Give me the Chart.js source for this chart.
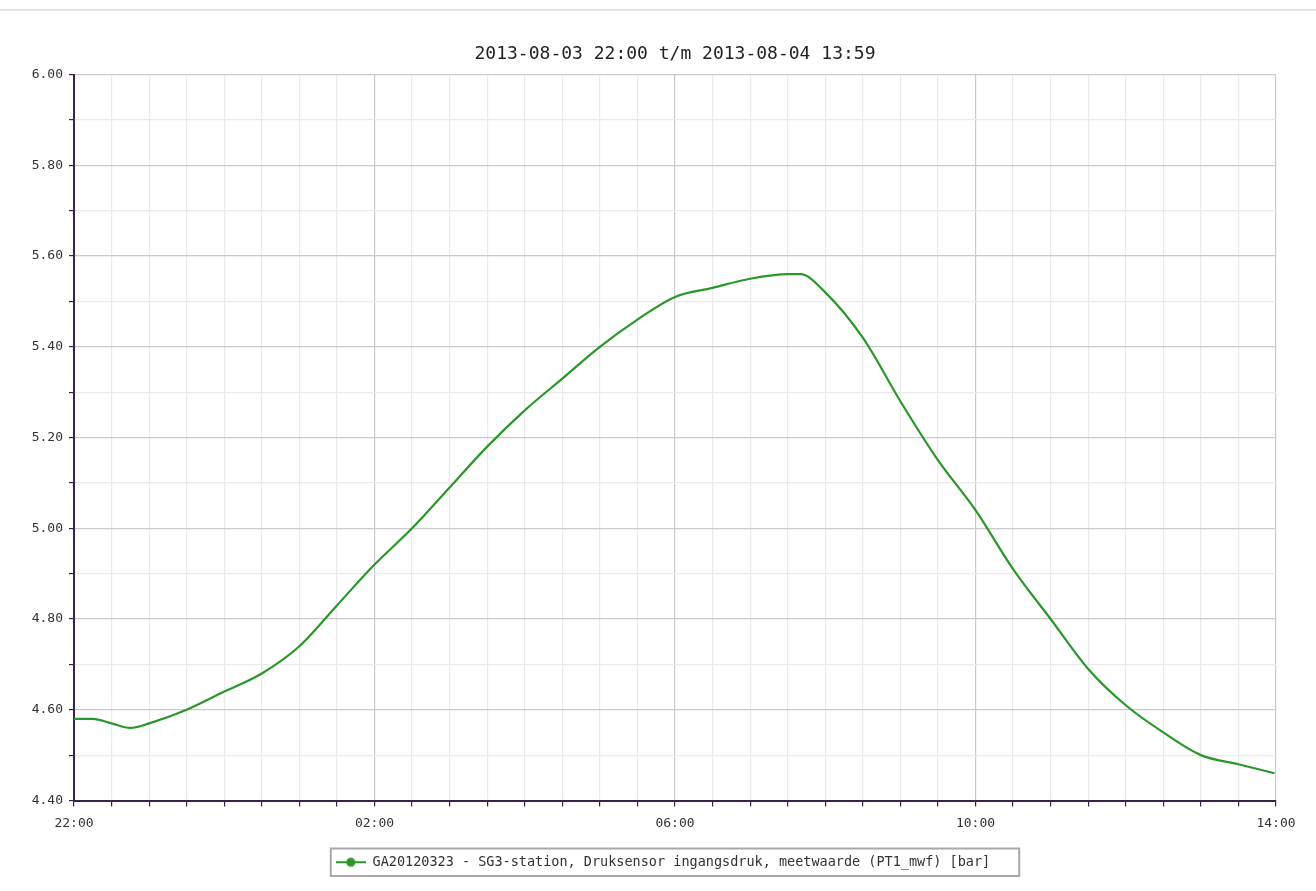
<!DOCTYPE html>
<html>
<head>
<meta charset="utf-8">
<script src="https://cdn.jsdelivr.net/npm/chart.js@4"></script>
<style>
  html, body { margin: 0; padding: 0; background: #fff; }
  .topline { position: absolute; left: 0; top: 9px; width: 1316px; height: 0; border-top: 2px solid #e2e2e2; }
  .wrap { position: absolute; left: 0; top: 0; width: 1316px; height: 891px; }
</style>
</head>
<body>
<div class="topline"></div>
<div class="wrap"><canvas id="pressure-chart" width="1316" height="891"></canvas></div>
<script>
// hours since 2013-08-03 22:00
const hours = [0, 0.25, 0.5, 0.75, 1, 1.5, 2, 2.5, 3, 3.5, 4, 4.5, 5, 5.5, 6, 6.5, 7, 7.5,
  8, 8.5, 9, 9.5, 9.67, 10, 10.5, 11, 11.5, 12, 12.5, 13, 13.5, 14, 14.5, 15, 15.5, 15.98];
const pressure = [4.58, 4.58, 4.57, 4.56, 4.57, 4.60, 4.64, 4.68, 4.74, 4.83, 4.92, 5.00, 5.09, 5.18,
  5.26, 5.33, 5.40, 5.46, 5.51, 5.53, 5.55, 5.56, 5.56, 5.52, 5.42, 5.28, 5.15, 5.04, 4.91, 4.80,
  4.69, 4.61, 4.55, 4.50, 4.48, 4.46];
const xTickHours = [0, 4, 8, 12, 16];
const xTickLabels = ["22:00", "02:00", "06:00", "10:00", "14:00"];
const seriesLabel = "GA20120323 - SG3-station, Druksensor ingangsdruk, meetwaarde (PT1_mwf) [bar]";
const titleText = "2013-08-03 22:00 t/m 2013-08-04 13:59";

const green = "#2b972b";
const axisColor = "#3b2347";
const minorGrid = "#ece9ee";
const majorGrid = "#cdc8d0";
const mono = "'DejaVu Sans Mono', monospace";

// legend marker: line with a dot
const marker = document.createElement("canvas");
marker.width = 30;
marker.height = 12;
const mctx = marker.getContext("2d");
mctx.strokeStyle = green;
mctx.lineWidth = 2;
mctx.beginPath();
mctx.moveTo(0, 6);
mctx.lineTo(30, 6);
mctx.stroke();
mctx.fillStyle = green;
mctx.beginPath();
mctx.arc(15, 6, 4.5, 0, Math.PI * 2);
mctx.fill();

const legendBorder = {
  id: "legendBorder",
  afterLayout(chart) {
    // nudge legend a bit left, like the original
    chart.legend.left -= 12;
    chart.legend.right -= 12;
  },
  afterDraw(chart) {
    const box = chart.legend.legendHitBoxes[0];
    if (!box) return;
    const ctx = chart.ctx;
    ctx.save();
    ctx.strokeStyle = "#aaa6ad";
    ctx.lineWidth = 2;
    ctx.strokeRect(box.left - 5, box.top - 7, box.width + 34, box.height + 14);
    ctx.restore();
  },
};

const isEven = (v) => Math.round(v * 10) % 2 === 0;

new Chart(document.getElementById("pressure-chart"), {
  type: "line",
  data: {
    datasets: [
      {
        label: seriesLabel,
        data: hours.map((h, i) => ({ x: h, y: pressure[i] })),
        borderColor: green,
        backgroundColor: green,
        borderWidth: 2.2,
        pointRadius: 0,
        pointStyle: marker,
        cubicInterpolationMode: "monotone",
        fill: false,
      },
    ],
  },
  options: {
    responsive: false,
    animation: false,
    layout: { padding: { left: 0, right: 40, top: 0, bottom: 12 } },
    plugins: {
      title: {
        display: true,
        fullSize: false,
        text: titleText,
        color: "#222",
        font: { family: mono, size: 18, weight: "normal" },
        padding: { top: 44, bottom: 9 },
      },
      legend: {
        position: "bottom",
        fullSize: false,
        labels: {
          usePointStyle: true,
          pointStyleWidth: 30,
          color: "#333",
          font: { family: mono, size: 13.5 },
          padding: 10,
        },
      },
      tooltip: { enabled: false },
    },
    scales: {
      x: {
        type: "linear",
        min: 0,
        max: 16,
        afterFit(scale) { scale.height = 45; },
        ticks: {
          stepSize: 0.5,
          autoSkip: false,
          maxRotation: 0,
          padding: 9,
          color: "#333",
          font: { family: mono, size: 13 },
          callback: (v) => {
            const i = xTickHours.indexOf(v);
            return i >= 0 ? xTickLabels[i] : "";
          },
        },
        grid: {
          color: (c) => (c.tick && xTickHours.includes(c.tick.value) ? majorGrid : minorGrid),
          tickColor: axisColor,
          tickLength: 6,
          lineWidth: 1.2,
        },
        border: { color: axisColor, width: 2 },
      },
      y: {
        min: 4.4,
        max: 6.0,
        afterFit(scale) { scale.width = 74; },
        ticks: {
          stepSize: 0.1,
          autoSkip: false,
          padding: 6,
          color: "#333",
          font: { family: mono, size: 13 },
          callback: (v) => (isEven(v) ? v.toFixed(2) : ""),
        },
        grid: {
          color: (c) => (c.tick && isEven(c.tick.value) ? majorGrid : minorGrid),
          tickColor: axisColor,
          tickLength: 5,
          lineWidth: 1.2,
        },
        border: { color: axisColor, width: 2 },
      },
    },
  },
  plugins: [legendBorder],
});
</script>
</body>
</html>
